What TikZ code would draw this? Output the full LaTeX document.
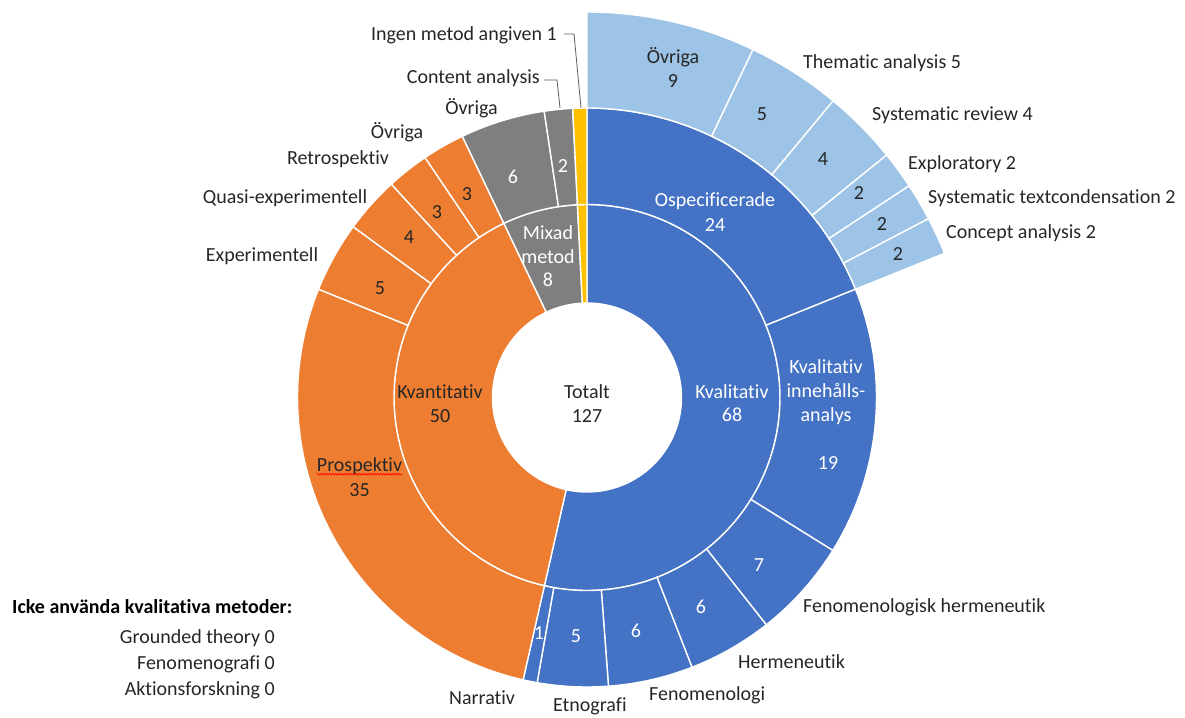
\documentclass[tikz,border=0pt]{standalone}
\usepackage{fontspec}
\setmainfont{Carlito}[Ligatures={NoCommon}]
\usetikzlibrary{decorations.pathmorphing}
\definecolor{cblue}{HTML}{4472C4}
\definecolor{corange}{HTML}{ED7D31}
\definecolor{cgray}{HTML}{7F7F7F}
\definecolor{cyellow}{HTML}{FFC000}
\definecolor{clight}{HTML}{9DC3E6}
\definecolor{ctext}{HTML}{262626}
\newcommand\sbseg[5]{\filldraw[fill=#5,draw=white,line width=1.4pt]
  ({90-(#3)*2.8346457}:#1) arc[start angle={90-(#3)*2.8346457},end angle={90-(#4)*2.8346457},radius=#1]
  -- ({90-(#4)*2.8346457}:#2) arc[start angle={90-(#4)*2.8346457},end angle={90-(#3)*2.8346457},radius=#2] -- cycle;}
\begin{document}
\begin{tikzpicture}[x=1pt,y=1pt,
  lbl/.style={font=\fontsize{20}{24}\selectfont,inner sep=0pt,text height=13pt,text depth=0pt,text=ctext},
  wl/.style={lbl,text=white},
  leader/.style={draw=ctext!75,line width=0.8pt}]
\useasboundingbox (0,0) rectangle (1185,-717);
\begin{scope}[shift={(587,-397.5)}]
% inner ring
\sbseg{94.5}{193}{0}{68}{cblue}
\sbseg{94.5}{193}{68}{118}{corange}
\sbseg{94.5}{193}{118}{126}{cgray}
\sbseg{94.5}{193}{126}{127}{cyellow}
% middle ring
\sbseg{193}{289.5}{0}{24}{cblue}
\sbseg{193}{289.5}{24}{43}{cblue}
\sbseg{193}{289.5}{43}{50}{cblue}
\sbseg{193}{289.5}{50}{56}{cblue}
\sbseg{193}{289.5}{56}{62}{cblue}
\sbseg{193}{289.5}{62}{67}{cblue}
\sbseg{193}{289.5}{67}{68}{cblue}
\sbseg{193}{289.5}{68}{103}{corange}
\sbseg{193}{289.5}{103}{108}{corange}
\sbseg{193}{289.5}{108}{112}{corange}
\sbseg{193}{289.5}{112}{115}{corange}
\sbseg{193}{289.5}{115}{118}{corange}
\sbseg{193}{289.5}{118}{124}{cgray}
\sbseg{193}{289.5}{124}{126}{cgray}
\sbseg{193}{289.5}{126}{127}{cyellow}
% outer ring
\sbseg{289.5}{385.5}{0}{9}{clight}
\sbseg{289.5}{385.5}{9}{14}{clight}
\sbseg{289.5}{385.5}{14}{18}{clight}
\sbseg{289.5}{385.5}{18}{20}{clight}
\sbseg{289.5}{385.5}{20}{22}{clight}
\sbseg{289.5}{385.5}{22}{24}{clight}
\end{scope}
% inner labels
\node[lbl] (t1) at (587,-392) {Totalt};
\node[lbl] (t2) at (587,-416) {127};
\node[wl] (kl1) at (732,-392) {Kvalitativ};
\node[wl] (kl2) at (732,-415) {68};
\node[lbl] (kn1) at (440,-392) {Kvantitativ};
\node[lbl] (kn2) at (440,-416) {50};
\node[wl] (m1) at (548,-233) {Mixad};
\node[wl] (m2) at (548,-257) {metod};
\node[wl] (m3) at (548,-280) {8};
% middle labels
\node[wl] (os1) at (715,-200) {Ospecificerade};
\node[wl] (os2) at (715,-225) {24};
\node[wl] (ki1) at (826,-367) {Kvalitativ};
\node[wl] (ki2) at (826,-391) {innehålls-};
\node[wl] (ki3) at (826,-415) {analys};
\node[wl] (ki4) at (828,-463) {19};
\node[wl] (v7) at (759,-565) {7};
\node[wl] (vh) at (701,-607) {6};
\node[wl] (vf) at (636,-631) {6};
\node[wl] (ve) at (576,-636) {5};
\node[wl] (vn) at (539,-633) {1};
\node[lbl] (pr1) at (359.5,-465) {Prospektiv};
\node[lbl] (pr2) at (359.5,-490) {35};
\draw[red,line width=0.7pt,decorate,decoration={snake,amplitude=0.8pt,segment length=3pt}]
  ([yshift=-2.5pt]pr1.south west) -- ([yshift=-2.5pt]pr1.south east);
\node[lbl] (vx) at (380,-288) {5};
\node[lbl] (vq) at (409,-237) {4};
\node[lbl] (vr) at (437,-212) {3};
\node[lbl] (vo) at (467,-194) {3};
\node[wl] (g6) at (513,-177) {6};
\node[wl] (g2) at (563,-166) {2};
% outer labels
\node[lbl] (ov1) at (673,-57) {Övriga};
\node[lbl] (ov2) at (673,-81) {9};
\node[lbl] (b5) at (762,-114) {5};
\node[lbl] (b4) at (823,-159) {4};
\node[lbl] (b2a) at (859,-193) {2};
\node[lbl] (b2b) at (882,-224) {2};
\node[lbl] (b2c) at (898,-254) {2};
% outside labels
\node[lbl,anchor=east] (lingen) at (557,-34) {Ingen metod angiven 1};
\node[lbl,anchor=east] (lcontent) at (540,-77) {Content analysis};
\coordinate (ytop) at (581,-108);
\coordinate (ctop) at (560,-108);
\draw[leader] ([xshift=7pt]lingen.east) -- ++(10,0) -- (ytop);
\draw[leader] ([xshift=4pt,yshift=-3pt]lcontent.east) -- ++(13,0) -- (ctop);
\node[lbl] (lgovr) at (471.5,-108) {Övriga};
\node[lbl] (loovr) at (397,-132) {Övriga};
\node[lbl] (lretro) at (338,-158) {Retrospektiv};
\node[lbl] (lquasi) at (285,-197) {Quasi-experimentell};
\node[lbl] (lexp) at (262,-255) {Experimentell};
\node[lbl,anchor=west] (lthem) at (803,-62) {Thematic analysis 5};
\node[lbl,anchor=west] (lsysr) at (872,-114) {Systematic review 4};
\node[lbl,anchor=west] (lexpl) at (908,-163) {Exploratory 2};
\node[lbl,anchor=west] (lsyst) at (928,-197) {Systematic textcondensation 2};
\node[lbl,anchor=west] (lconc) at (946,-232) {Concept analysis 2};
\node[lbl,anchor=west] (lfh) at (803,-606) {Fenomenologisk hermeneutik};
\node[lbl,anchor=west] (lherm) at (738,-662) {Hermeneutik};
\node[lbl,anchor=west] (lfen) at (649,-694) {Fenomenologi};
\node[lbl,anchor=west] (letn) at (553,-705) {Etnografi};
\node[lbl,anchor=west] (lnar) at (449,-698) {Narrativ};
% not used methods
\node[lbl,anchor=west,text=black] (h0) at (12,-607) {\bfseries Icke använda kvalitativa metoder:};
\node[lbl,anchor=east] (h1) at (275,-637) {Grounded theory 0};
\node[lbl,anchor=east] (h2) at (275,-663) {Fenomenografi 0};
\node[lbl,anchor=east] (h3) at (275,-689) {Aktionsforskning 0};
\end{tikzpicture}
\end{document}
